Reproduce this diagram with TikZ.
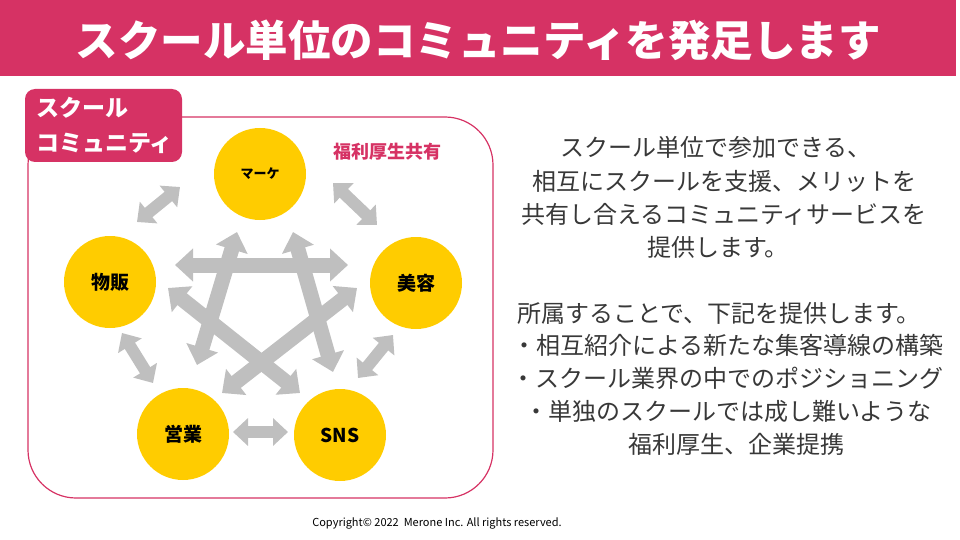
\documentclass[tikz,border=0pt]{standalone}
\usepackage{fontspec}
\setmainfont{Noto Sans CJK JP}
\usepackage{tikz}
\usetikzlibrary{arrows.meta}

\definecolor{schoolpink}{RGB}{214,50,100}
\definecolor{circlegold}{RGB}{255,204,0}
\definecolor{arrowgray}{RGB}{191,191,191}
\definecolor{bodygray}{RGB}{56,56,56}

\begin{document}
\begin{tikzpicture}[
    x=1pt,y=-1pt,
    member/.style={circle,fill=circlegold,minimum size=92pt,inner sep=0pt,
        font=\bfseries\fontsize{19}{19}\selectfont,text=black},
    link/.style={draw=arrowgray,line width=12pt,>={Triangle[width=27pt,length=15pt]},<->},
    star link/.style={link,line width=15pt,>={Triangle[width=32pt,length=18pt]}},
    body/.style={text=bodygray,font=\fontsize{24}{24}\selectfont,inner sep=0pt}
]
    \useasboundingbox (0,0) rectangle (960,540);

    % Title bar
    \fill[schoolpink] (0,0) rectangle (956,76);
    \node[text=white,font=\bfseries\fontsize{42.5}{42.5}\selectfont] (title) at (478,40)
        {スクール単位のコミュニティを発足します};

    % Community frame and its tab
    \draw[schoolpink,line width=1.2pt,rounded corners=48pt] (28,117) rectangle (493,498);
    \fill[schoolpink,rounded corners=10pt] (25,89) rectangle (182,162);
    \node[anchor=west,align=left,text=white,inner sep=0pt,
        font=\bfseries\fontsize{23}{35}\selectfont] (tab) at (36,125.5) {スクール\\コミュニティ};
    \node[text=schoolpink,font=\bfseries\fontsize{18}{18}\selectfont] (welfare) at (387,152) {福利厚生共有};

    % Member schools
    \node[member,font=\bfseries\fontsize{13}{13}\selectfont] (marke) at (260,174) {マーケ};
    \node[member] (bussan) at (110,282) {物販};
    \node[member] (biyou)  at (416,283) {美容};
    \node[member] (eigyou) at (183,434) {営業};
    \node[member] (sns)    at (340,435) {SNS};

    % Arrow ends: neighbours round the ring
    \coordinate (bm1) at (137,222); \coordinate (bm2) at (180,187);
    \coordinate (mb1) at (333,183); \coordinate (mb2) at (377,225);
    \coordinate (bs1) at (393,335); \coordinate (bs2) at (358,378);
    \coordinate (be1) at (122,333); \coordinate (be2) at (153,383);
    \coordinate (es1) at (233,432); \coordinate (es2) at (288,432);
    % Arrow ends: the star across the ring
    \coordinate (bb1) at (175,265); \coordinate (bb2) at (348,265);
    \coordinate (me1) at (237,232); \coordinate (me2) at (197,365);
    \coordinate (ms1) at (293,232); \coordinate (ms2) at (333,372);
    \coordinate (bn1) at (168,288); \coordinate (bn2) at (300,393);
    \coordinate (ye1) at (357,288); \coordinate (ye2) at (222,393);

    \foreach \p/\q in {bm1/bm2,mb1/mb2,bs1/bs2,be1/be2,es1/es2}
        \draw[link] (\p) -- (\q);
    \foreach \p/\q in {bb1/bb2,me1/me2,ms1/ms2,bn1/bn2,ye1/ye2}
        \draw[star link] (\p) -- (\q);

    % Description
    \node[body] (d1) at (716,147) {スクール単位で参加できる、};
    \node[body] (d2) at (724,181) {相互にスクールを支援、メリットを};
    \node[body] (d3) at (724,214) {共有し合えるコミュニティサービスを};
    \node[body] (d4) at (718,247) {提供します。};
    \node[body] (d5) at (719,313) {所属することで、下記を提供します。};
    \node[body] (d6) at (728,345) {・相互紹介による新たな集客導線の構築};
    \node[body] (d7) at (727,378) {・スクール業界の中でのポジショニング};
    \node[body] (d8) at (728,411) {・単独のスクールでは成し難いような};
    \node[body] (d9) at (736,444) {福利厚生、企業提携};

    \node[font=\fontsize{11}{11}\selectfont] (copy) at (437,523)
        {Copyright© 2022\ \ Merone Inc. All rights reserved.};
\end{tikzpicture}
\end{document}
